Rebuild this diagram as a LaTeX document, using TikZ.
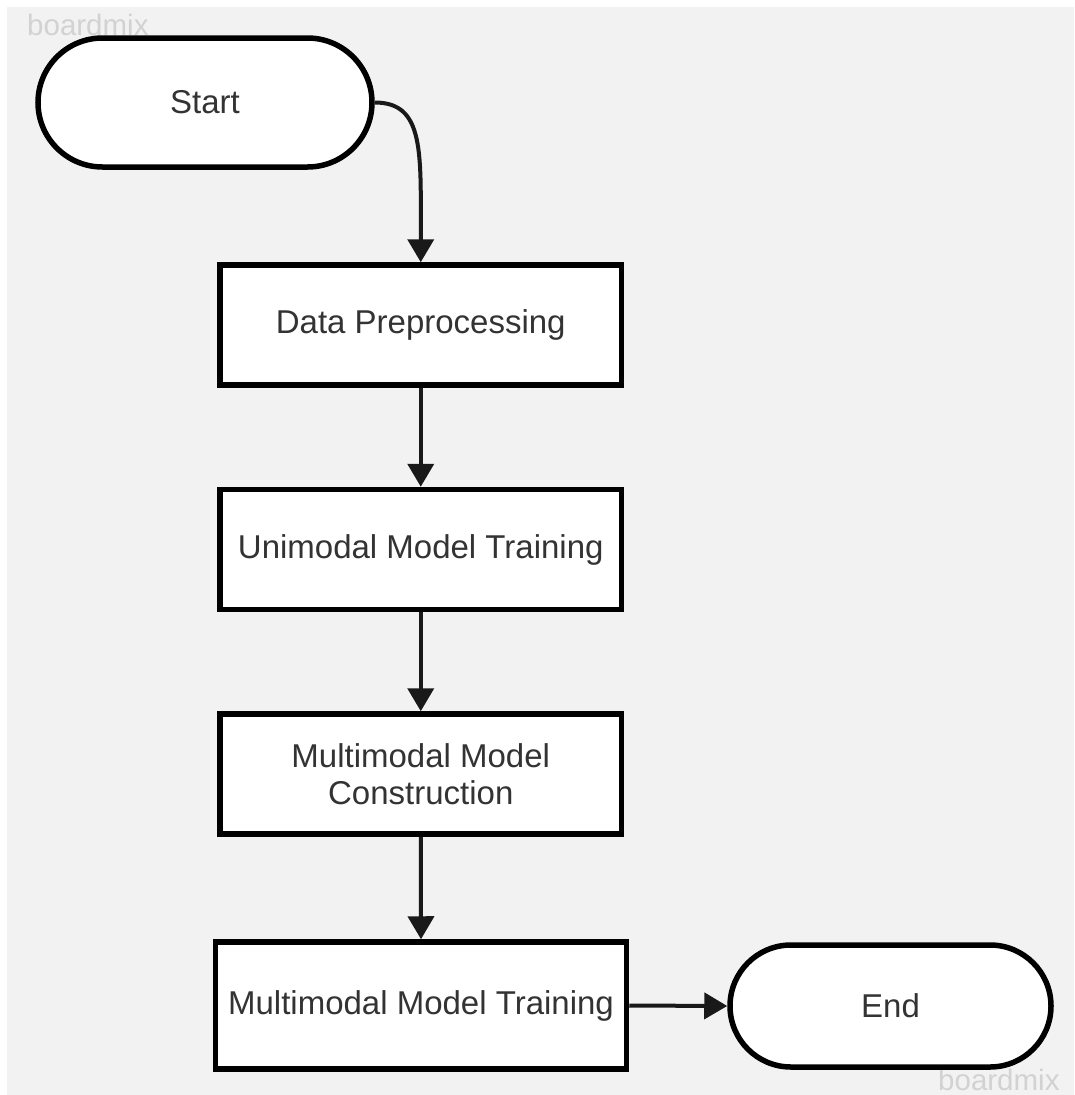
\documentclass[tikz,border=0pt]{standalone}
\usepackage{fontspec}
\setmainfont{Liberation Sans}
\usetikzlibrary{arrows.meta}
\definecolor{bggray}{HTML}{F2F2F2}
\definecolor{txtgray}{HTML}{333333}
\definecolor{wmgray}{HTML}{D2D2D2}
\begin{document}
\begin{tikzpicture}[x=1pt,y=-1pt,
	box/.style={draw=black,line width=5.5pt,fill=white,text=txtgray,
		font=\fontsize{33}{37}\selectfont,align=center,inner sep=0pt,
		minimum width=401.5pt,minimum height=120pt},
	term/.style={box,minimum width=#1},
	link/.style={line width=4pt,draw=black!90,-{Triangle[length=23pt,width=26pt]}},
	wmark/.style={text=wmgray,font=\fontsize{29.5}{30}\selectfont,inner sep=0pt,anchor=base west}]
	\useasboundingbox (0,0) rectangle (1074,1095);
	\fill[white] (0,0) rectangle (1074,1095);
	\fill[bggray] (7,7) rectangle (1074,1095);
	\node[wmark] (wmtop) at (27,35) {boardmix};
	\node[wmark] (wmbot) at (938,1090) {boardmix};
	% flow
	\node[term=334pt,minimum height=129pt,rounded corners=64.5pt] (start) at (205,102.5) {Start};
	\node[box] (data) at (420.75,325) {Data Preprocessing};
	\node[box] (uni) at (420.75,549.5) {Unimodal Model Training};
	\node[box] (cons) at (420.75,774) {Multimodal Model\\Construction};
	\node[box,minimum width=411pt,minimum height=127pt] (train) at (421,1005.5) {Multimodal Model Training};
	\node[term=321pt,minimum height=122pt,rounded corners=61pt] (end) at (890.5,1006) {End};
	\draw[link] (start.east) .. controls +(50,0) and +(0,-110) .. (data.north);
	\draw[link] (data.south) -- (uni.north);
	\draw[link] (uni.south) -- (cons.north);
	\draw[link] (cons.south) -- (train.north);
	\draw[link] (train.east) -- (end.west);
\end{tikzpicture}
\end{document}
